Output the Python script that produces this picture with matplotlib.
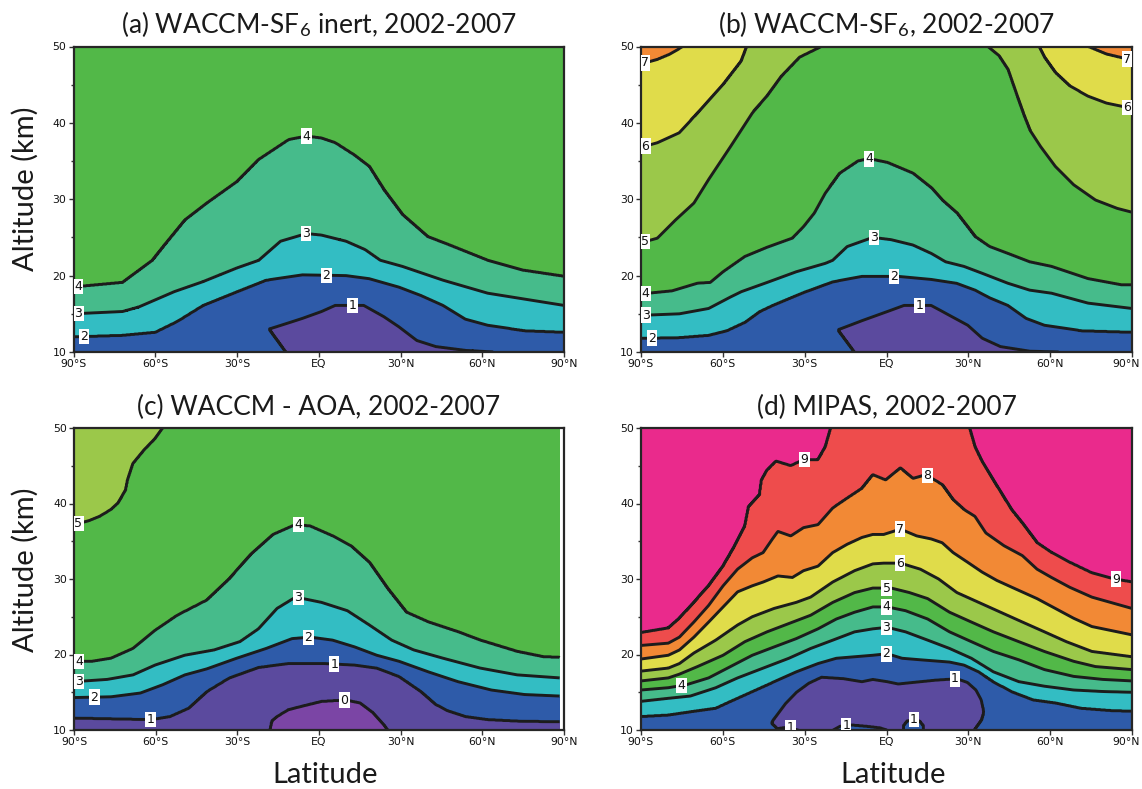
import numpy as np
import matplotlib
matplotlib.use('Agg')
import matplotlib.pyplot as plt
import matplotlib.transforms as mtransforms
from matplotlib.ticker import MultipleLocator

plt.rcParams['font.family'] = ['Lato', 'DejaVu Sans']
plt.rcParams['mathtext.fontset'] = 'custom'
plt.rcParams['mathtext.rm'] = 'Lato'
plt.rcParams['mathtext.it'] = 'Lato:italic'
plt.rcParams['mathtext.bf'] = 'Lato:bold'

# ---------------- tick labels / bands ----------------
LAT_TICKS = [-90, -60, -30, 0, 30, 60, 90]
LAT_TICK_LABELS = ['90°S', '60°S', '30°S', 'EQ', '30°N', '60°N', '90°N']
ALT_TICKS = [10, 20, 30, 40, 50]
BAND_EDGES = [-1, 0, 1, 2, 3, 4, 5, 6, 7, 8, 9, 10]
BAND_COLORS = ['#7b45a5', '#5b4a9e', '#2e5ba9', '#33bdc3', '#46bb8b', '#52b848',
               '#9bc84a', '#e0dc4a', '#f28935', '#ee4c4c', '#ea2a8c']
LINE_LEVELS = [0, 1, 2, 3, 4, 5, 6, 7, 8, 9]

# ---------------- (a) WACCM-SF6 inert : contour altitudes (km) ----------------
a4_lat = [-90, -72, -61, -57, -49, -41, -30, -22, -11, -4.5, 1, 6, 13, 18.5, 24, 30.7, 40, 48, 62, 75, 90]
a4_alt = [18.5, 19.1, 22.0, 23.8, 27.3, 29.5, 32.3, 35.2, 37.8, 38.25, 38.0, 37.4, 35.8, 34.3, 31.2, 28.0, 25.1, 24.0, 22.0, 20.7, 19.9]
a3_lat = [-90, -72, -66, -53, -42.5, -30, -22, -14, -4.5, 1, 10, 17, 22.6, 30.7, 45.6, 62, 90]
a3_alt = [15.0, 15.3, 15.9, 17.9, 19.2, 21.0, 22.0, 24.5, 25.5, 25.3, 24.5, 23.4, 22.0, 21.2, 19.4, 17.7, 16.1]
a2_lat = [-90, -72, -60, -52, -42.5, -30, -19.4, -6, 10, 18.5, 29.4, 37.5, 45.6, 53.8, 62, 75.5, 90]
a2_alt = [12.0, 12.2, 12.6, 14.0, 16.1, 17.9, 19.4, 20.1, 20.0, 19.6, 18.5, 17.4, 16.1, 14.3, 13.5, 12.8, 12.6]
a1_lat = [-18.1, -6, 1, 6, 16.5, 24, 29.4, 36, 43, 54, 64, 70]
a1_alt = [13.0, 14.4, 15.3, 16.1, 16.1, 14.6, 13.3, 11.5, 10.7, 10.2, 10.0, 9.0]
a1low_lat = [-18.1, -12, -10, 70]
a1low_alt = [13.0, 10.0, 8.0, 8.0]

# ---------------- (b) WACCM-SF6 ----------------
b7L_lat = [-90, -84, -79.3, -74.6, -72]
b7L_alt = [47.7, 48.3, 49.0, 50.0, 51.0]
b7R_lat = [71, 73.9, 80.6, 90]
b7R_alt = [51.0, 50.0, 49.0, 48.2]
b6L_lat = [-90, -84, -76, -67.9, -59.9, -53.2, -51.2, -49]
b6L_alt = [36.8, 37.4, 38.7, 41.8, 45.0, 48.1, 50.0, 51.0]
b6R_lat = [53, 55.9, 57.9, 61.9, 67.3, 73.9, 80.6, 87.3, 90]
b6R_alt = [51.0, 50.0, 48.6, 46.6, 44.8, 43.5, 42.6, 42.1, 41.9]
b5L_lat = [-90, -84, -77.3, -70.6, -65.2, -57.2, -49.2, -43.8, -38.5, -31.8, -23.8, -21]
b5L_alt = [24.3, 24.9, 27.3, 29.5, 32.6, 36.9, 41.3, 43.5, 46.1, 48.6, 50.0, 51.0]
b5R_lat = [35, 37.1, 41.2, 44.5, 47.9, 50.5, 52.5, 56.5, 61.9, 68.6, 76.6, 84.6, 90]
b5R_alt = [51.0, 50.0, 48.8, 47.0, 43.5, 40.9, 39.1, 36.9, 34.3, 31.9, 29.9, 28.8, 28.3]
b4_lat = [-90, -78.6, -69.3, -64.6, -59.9, -51.9, -43.8, -34.5, -30.4, -26.4, -22.4, -17.1, -10.4, -6.4, 0.4,
          9.7, 16.4, 20.4, 25.8, 32.5, 37.8, 44.5, 52.5, 60.5, 73.9, 86, 90]
b4_alt = [17.6, 18.0, 19.0, 19.1, 20.5, 22.5, 23.7, 24.9, 26.4, 28.2, 30.8, 33.4, 35.0, 35.3, 34.8,
          33.4, 31.5, 29.9, 28.2, 25.1, 23.8, 22.9, 21.8, 21.2, 19.6, 18.8, 18.8]
b3_lat = [-90, -75.9, -65.2, -57.2, -53.2, -43.8, -33.1, -22.4, -19.7, -14.4, -5, 1.7, 9.7, 16.4, 21.7,
          28.4, 35.1, 44.5, 52.5, 60.5, 73.9, 90]
b3_alt = [14.8, 15.0, 15.7, 17.2, 17.9, 19.1, 20.5, 21.6, 22.0, 23.8, 25.0, 24.7, 24.0, 22.9, 21.8,
          21.2, 20.3, 19.0, 18.1, 17.7, 16.4, 15.7]
b2_lat = [-90, -75.9, -65.2, -58.5, -51.9, -46.5, -41.8, -30.4, -19.7, -9, 4.3, 16.4, 25.7, 32.5, 37.8,
          44.5, 51.2, 57.9, 71.3, 90]
b2_alt = [11.8, 11.9, 12.2, 12.8, 13.9, 15.3, 16.1, 17.8, 19.2, 19.9, 19.9, 19.5, 19.0, 18.1, 17.1,
          16.1, 14.4, 13.5, 12.8, 12.6]
b1_lat = [-17.7, -9, 0.3, 6.4, 16.4, 23.1, 29.8, 35.1, 41.8, 52.5, 63.2, 70]
b1_alt = [12.9, 14.1, 15.3, 16.1, 16.1, 14.8, 13.5, 11.8, 10.7, 10.1, 10.0, 9.0]
b1low_lat = [-17.7, -11.7, -10.5, 70]
b1low_alt = [12.9, 10.0, 8.0, 8.0]

# ---------------- (c) WACCM - AOA ----------------
c5_lat = [-90, -84.6, -80.5, -76.4, -73.7, -71, -70.3, -68.3, -64.2, -60.2, -57.4, -55]
c5_alt = [37.2, 37.7, 38.3, 39.2, 40.1, 41.8, 43.1, 45.3, 47.1, 48.6, 50.0, 51.0]
c4_lat = [-90, -83.2, -76.4, -68.3, -60.2, -52, -41.2, -33, -24.9, -16.8, -8.6, -3.2, 5, 11.7, 18.5,
          25.3, 32.1, 40.2, 51.1, 59.2, 72.8, 82.3, 88.4]
c4_alt = [19.1, 19.1, 19.5, 20.8, 23.2, 25.2, 27.2, 30.0, 33.3, 35.9, 37.2, 37.0, 35.7, 34.4, 32.2,
          28.7, 25.6, 24.3, 23.0, 21.9, 20.4, 19.7, 19.6]
c3_lat = [-90, -77.8, -68.3, -60.2, -49.3, -38.5, -29, -22.2, -15.4, -8.6, 0.9, 10.4, 18.5, 26.7, 34.8,
          45.6, 59.2, 72.8, 88.4]
c3_alt = [16.4, 16.7, 17.3, 18.6, 19.9, 20.6, 21.7, 23.4, 26.1, 27.6, 26.9, 25.8, 23.9, 21.9, 20.6,
          19.5, 18.2, 17.3, 16.9]
c2_lat = [-90, -76.4, -65.6, -57.4, -49.3, -41.2, -30.3, -19.4, -9.9, -3.2, 5, 13.1, 21.2, 29.4, 40.2,
          51.1, 63.3, 75.5, 88.4]
c2_alt = [14.3, 14.4, 14.9, 16.0, 17.3, 18.1, 19.5, 20.8, 22.1, 22.3, 21.9, 21.0, 19.9, 19.1, 17.7,
          16.4, 15.3, 14.7, 14.5]
c1_lat = [-90, -76.4, -61.5, -54.7, -47.9, -41.2, -33, -22.2, -11.3, 2.2, 13.1, 21.2, 29.4, 37.5, 42.9,
          47, 53.8, 61.9, 72.8, 88.4]
c1_alt = [11.6, 11.5, 11.4, 11.8, 12.9, 15.1, 16.9, 18.3, 18.8, 18.8, 18.6, 18.2, 17.1, 15.1, 13.4,
          12.6, 11.8, 11.4, 11.2, 11.1]
c0_lat = [-19, -18.1, -17.4, -15.4, -11.3, -5.9, 0.9, 9.7, 15.1, 19.9, 23.9, 25.3, 27]
c0_alt = [8.0, 10.0, 11.2, 11.8, 12.7, 13.2, 13.8, 14.0, 13.6, 12.3, 10.7, 10.0, 8.0]
C_LAT_MAX = 88.4

# ---------------- (d) MIPAS ----------------
d9L_lat = [-90, -80, -75.9, -70.6, -65.2, -59.9, -55.9, -51.9, -50.5, -46.5, -45.8, -43.8, -40.5, -35.1,
           -30.4, -25.1, -22.4, -20.4, -19]
d9L_alt = [22.9, 23.5, 24.8, 26.9, 29.1, 31.7, 34.2, 37.0, 39.6, 41.2, 43.1, 44.4, 45.6, 45.0,
           45.8, 45.8, 47.5, 50.0, 51.0]
d9R_lat = [29, 30.4, 32.4, 35.1, 40.5, 45.8, 49.8, 55.2, 60.5, 67.2, 75.3, 83.3, 90]
d9R_alt = [51.0, 50.0, 47.5, 45.5, 42.3, 39.2, 37.4, 34.8, 33.5, 32.2, 30.8, 30.0, 29.6]
d8_lat = [-90, -80, -75.9, -70.6, -65.2, -59.9, -54.6, -49.2, -45.2, -41.8, -39.8, -35.1, -30.4, -25.1,
          -19.7, -14.4, -9, -5, -0.3, 5.1, 9.7, 14.4, 20.4, 24.4, 28.4, 32.4, 36.4, 43.1, 49.8, 55.2,
          60.5, 67.2, 75.3, 90]
d8_alt = [21.2, 21.5, 22.3, 24.3, 26.5, 29.1, 31.3, 32.8, 33.5, 35.3, 36.3, 35.7, 36.8, 37.2,
          39.4, 40.7, 42.0, 43.8, 43.1, 44.7, 43.3, 43.8, 42.5, 40.5, 39.2, 38.3, 36.1, 34.4, 33.1, 31.3,
          30.2, 28.9, 27.6, 26.1]
d7_lat = [-90, -80, -75.9, -70.6, -65.2, -59.9, -54.6, -49.2, -45.2, -39.8, -34.5, -30.4, -25.1, -19.7,
          -14.4, -9, -5, -1, 5.1, 11.1, 16.4, 20.4, 24.4, 29.8, 35.1, 40.5, 47.2, 55.2, 61.9, 68.6,
          75.3, 84.7, 90]
d7_alt = [19.4, 19.9, 20.6, 22.3, 24.3, 26.3, 28.3, 29.1, 29.6, 30.4, 30.2, 31.1, 31.7, 33.5,
          34.6, 35.5, 35.9, 35.9, 36.6, 35.7, 35.3, 34.8, 33.5, 32.2, 30.9, 29.8, 28.7, 27.4, 26.1, 24.8,
          23.7, 23.0, 22.6]
d6_lat = [-90, -80, -75.9, -70.6, -62.6, -54.6, -49.2, -41.2, -33.1, -27.8, -19.7, -11.7, -5, -1, 5.1,
          12.4, 19.1, 25.8, 33.8, 41.8, 49.8, 57.9, 65.9, 75.3, 90]
d6_alt = [17.8, 18.2, 18.8, 20.2, 21.9, 23.9, 25.0, 26.1, 26.9, 27.6, 29.6, 31.1, 32.0, 32.1, 32.1,
          31.3, 30.0, 28.2, 26.9, 25.6, 24.3, 23.0, 21.7, 20.4, 19.7]
d5_lat = [-90, -80, -75.9, -69.3, -59.9, -51.9, -43.8, -35.8, -27.8, -19.7, -11.7, -5, 1.7, 8.4, 15.1,
          23.1, 31.1, 39.2, 48.5, 57.9, 68.6, 76.6, 90]
d5_alt = [16.5, 16.9, 17.4, 18.4, 19.9, 21.7, 23.0, 24.1, 25.2, 26.9, 28.2, 28.8, 28.8, 28.2, 27.4,
          25.6, 24.3, 23.0, 21.7, 20.4, 19.1, 18.4, 18.0]
d4_lat = [-90, -80, -73.3, -65.2, -57.2, -49.2, -41.2, -33.1, -25.1, -18.4, -11.7, -5, 0.3, 7, 15.1,
          23.1, 31.1, 39.2, 48.5, 57.9, 68.6, 79.3, 90]
d4_alt = [15.3, 15.6, 16.0, 16.9, 18.4, 19.9, 21.0, 22.1, 23.4, 24.7, 25.6, 26.3, 26.3, 25.8, 24.7,
          23.0, 21.7, 20.4, 19.3, 18.0, 17.1, 16.7, 16.5]
d3_lat = [-90, -80, -71.9, -62.6, -54.6, -45.2, -35.8, -27.8, -19.7, -11.7, -5, 0.3, 7, 15.1, 23.1,
          31.1, 39.2, 48.5, 57.9, 68.6, 79.3, 90]
d3_alt = [13.8, 14.2, 14.5, 15.6, 16.9, 18.2, 19.5, 20.8, 21.9, 23.0, 23.4, 23.6, 23.0, 21.9, 20.8,
          19.5, 17.7, 16.4, 15.8, 15.3, 15.1, 15.0]
d2_lat = [-90, -80, -70.6, -62.6, -57.2, -49.2, -41.2, -33.1, -25.1, -18.4, -11.7, -5, 0.3, 5.7, 12.4,
          23.1, 28.4, 33.8, 39.2, 45.8, 53.8, 61.9, 71.3, 82, 90]
d2_alt = [11.8, 12.0, 12.5, 12.9, 13.8, 15.1, 16.4, 17.7, 18.8, 19.5, 19.7, 19.9, 20.1, 19.5, 19.3,
          19.0, 18.6, 17.7, 16.4, 15.1, 14.0, 13.6, 12.9, 12.6, 12.5]
d1_lat = [-42, -41.5, -37, -33, -28.5, -23.8, -15.7, -9, -5, 0.3, 4.3, 12.4, 17.7, 25.8, 29.7, 32.8,
          34.7, 35.6]
d1_alt = [10.9, 11.3, 13.5, 15.0, 16.2, 17.0, 16.8, 16.4, 16.7, 16.4, 16.1, 16.4, 16.6, 16.8, 16.3, 15.3,
          14.0, 12.4]
d1low_lat = [-42, -40, -36, -32.4, -31.5, -20.5, -19.6, -17, -13.4, -7.1, -2.4, 0.2, 1, 5.3, 5.8, 6.2,
             7.5, 10, 12.2, 13.5, 13.9, 30.8, 32.1, 34.7, 35.6]
d1low_alt = [10.9, 10.2, 10.4, 10.0, 9.0, 9.0, 10.0, 10.5, 10.7, 10.5, 10.3, 10.0, 9.0, 9.0, 9.0, 10.6,
             11.2, 11.4, 11.2, 10.6, 9.0, 9.0, 10.0, 11.3, 12.4]

# contour label anchor points (lat, alt)
a_label_pts = [(-88.2, 18.5), (-88.2, 15.0), (-86.2, 12.0), (-4.5, 38.3), (-4.5, 25.3), (2.8, 20.1), (12.4, 16.1)]
b_label_pts = [(-88.3, 47.7), (-88.3, 36.8), (-88.3, 24.3), (-88.3, 17.6), (-88.3, 14.8), (-86, 11.8),
               (-6.4, 35.3), (-4.7, 24.9), (2.7, 19.9), (12.1, 16.1), (88, 48.2), (88, 41.9)]
c_label_pts = [(-88.2, 37.2), (-88.2, 19.1), (-88.2, 16.4), (-82.5, 14.3), (-61.9, 11.5), (-7.5, 37.2),
               (-7.5, 27.6), (-3.9, 22.3), (5.6, 18.8), (9.3, 14.1)]
d_label_pts = [(-30, 45.8), (15.1, 43.8), (5.0, 36.6), (5.0, 32.1), (0, 28.8), (0, 26.3), (0, 23.6),
               (0, 19.9), (25.1, 16.7), (84.2, 30.0), (-75, 15.6), (10, 11.4), (-14.8, 10.7), (-35.1, 10.4)]


def build_field(curves, lats, alts):
    """Age field: each column interpolated between the contour crossings.
    curves: (level, direction, lat list, alt list); direction +1 means the
    value grows upward across the curve, -1 means it decreases."""
    Z = np.empty((len(alts), len(lats)))
    for j, x in enumerate(lats):
        knots = []
        for lev, d, clat, calt in curves:
            if clat[0] <= x <= clat[-1]:
                knots.append((float(np.interp(x, clat, calt)), lev, d))
        knots.sort()
        zs = [-50.0]
        vs = [knots[0][1] - 0.5 * knots[0][2]]
        for i, (z, lev, d) in enumerate(knots):
            if i > 0 and knots[i - 1][1] == lev:
                zs.append(0.5 * (knots[i - 1][0] + z))
                vs.append(lev + 0.5 * knots[i - 1][2])
            zs.append(z)
            vs.append(lev)
        zs.append(150.0)
        vs.append(knots[-1][1] + 0.5 * knots[-1][2])
        Z[:, j] = np.interp(alts, zs, vs)
    return Z


panels = [
    dict(title='(a) WACCM-SF$_6$ inert, 2002-2007', latmax=90, right=False,
         curves=[(4, 1, a4_lat, a4_alt), (3, 1, a3_lat, a3_alt), (2, 1, a2_lat, a2_alt),
                 (1, 1, a1_lat, a1_alt), (1, -1, a1low_lat, a1low_alt)],
         labels=a_label_pts, rect=[73.5, 46.5, 564, 352]),
    dict(title='(b) WACCM-SF$_6$, 2002-2007', latmax=90, right=True,
         curves=[(7, 1, b7L_lat, b7L_alt), (7, 1, b7R_lat, b7R_alt), (6, 1, b6L_lat, b6L_alt),
                 (6, 1, b6R_lat, b6R_alt), (5, 1, b5L_lat, b5L_alt), (5, 1, b5R_lat, b5R_alt),
                 (4, 1, b4_lat, b4_alt), (3, 1, b3_lat, b3_alt), (2, 1, b2_lat, b2_alt),
                 (1, 1, b1_lat, b1_alt), (1, -1, b1low_lat, b1low_alt)],
         labels=b_label_pts, rect=[641, 46.5, 1132, 352]),
    dict(title='(c) WACCM - AOA, 2002-2007', latmax=C_LAT_MAX, right=False,
         curves=[(5, 1, c5_lat, c5_alt), (4, 1, c4_lat, c4_alt), (3, 1, c3_lat, c3_alt),
                 (2, 1, c2_lat, c2_alt), (1, 1, c1_lat, c1_alt), (0, 1, c0_lat, c0_alt)],
         labels=c_label_pts, rect=[74, 428, 564, 730]),
    dict(title='(d) MIPAS, 2002-2007', latmax=90, right=True,
         curves=[(9, 1, d9L_lat, d9L_alt), (9, 1, d9R_lat, d9R_alt), (8, 1, d8_lat, d8_alt),
                 (7, 1, d7_lat, d7_alt), (6, 1, d6_lat, d6_alt), (5, 1, d5_lat, d5_alt),
                 (4, 1, d4_lat, d4_alt), (3, 1, d3_lat, d3_alt), (2, 1, d2_lat, d2_alt),
                 (1, 1, d1_lat, d1_alt), (1, -1, d1low_lat, d1low_alt)],
         labels=d_label_pts, rect=[641, 428, 1132, 730]),
]

W, H = 1142, 789
fig = plt.figure(figsize=(W / 100, H / 100), dpi=100)

alts = np.linspace(10, 50, 801)
for p in panels:
    x0, y0, x1, y1 = p['rect']
    ax = fig.add_axes([x0 / W, 1 - y1 / H, (x1 - x0) / W, (y1 - y0) / H])
    lats = np.linspace(-90, p['latmax'], int(round((p['latmax'] + 90) * 4)) + 1)
    Z = build_field(p['curves'], lats, alts)
    LA, AL = np.meshgrid(lats, alts)
    ax.contourf(LA, AL, Z, levels=BAND_EDGES, colors=BAND_COLORS, antialiased=False)
    cs = ax.contour(LA, AL, Z, levels=LINE_LEVELS, colors='#1c1c1c', linewidths=2.1)
    ax.set_xlim(-90, 90)
    ax.set_ylim(10, 50)
    texts = ax.clabel(cs, fmt='%d', inline=False, fontsize=9, manual=p['labels'])
    for t in texts:
        t.set_rotation(0)
        t.set_color('#111111')
        t.set_fontfamily('DejaVu Sans')
        t.set_bbox(dict(boxstyle='square,pad=0.1', fc='white', ec='none'))
        t.set_clip_on(True)
    ax.set_xticks(LAT_TICKS)
    ax.set_xticklabels(LAT_TICK_LABELS)
    ax.set_yticks(ALT_TICKS)
    ax.yaxis.set_minor_locator(MultipleLocator(5))
    ax.tick_params(which='both', direction='out', color='#333333', labelsize=7.8,
                   pad=1.5, labelcolor='#111111')
    ax.tick_params(which='major', length=3.5, width=1)
    ax.tick_params(which='minor', length=2.5, width=1)
    for lab in ax.get_xticklabels() + ax.get_yticklabels():
        lab.set_fontfamily('DejaVu Sans')
    if p['right']:
        last = ax.get_xticklabels()[-1]
        last.set_transform(last.get_transform() +
                           mtransforms.ScaledTranslation(-6 / 100, 0, fig.dpi_scale_trans))
    for s in ax.spines.values():
        s.set_linewidth(1.6)
        s.set_color('#262626')
    ax.set_title(p['title'], fontsize=19, pad=9.5, color='#1a1a1a')

fig.text(25 / W, 1 - 188.5 / H, 'Altitude (km)', rotation=90, ha='center', va='center',
         fontsize=21, color='#1a1a1a')
fig.text(25 / W, 1 - 570 / H, 'Altitude (km)', rotation=90, ha='center', va='center',
         fontsize=21, color='#1a1a1a')
fig.text(325 / W, 1 - 775 / H, 'Latitude', ha='center', va='center', fontsize=21, color='#1a1a1a')
fig.text(893 / W, 1 - 775 / H, 'Latitude', ha='center', va='center', fontsize=21, color='#1a1a1a')

fig.savefig('out.png', dpi=100)
